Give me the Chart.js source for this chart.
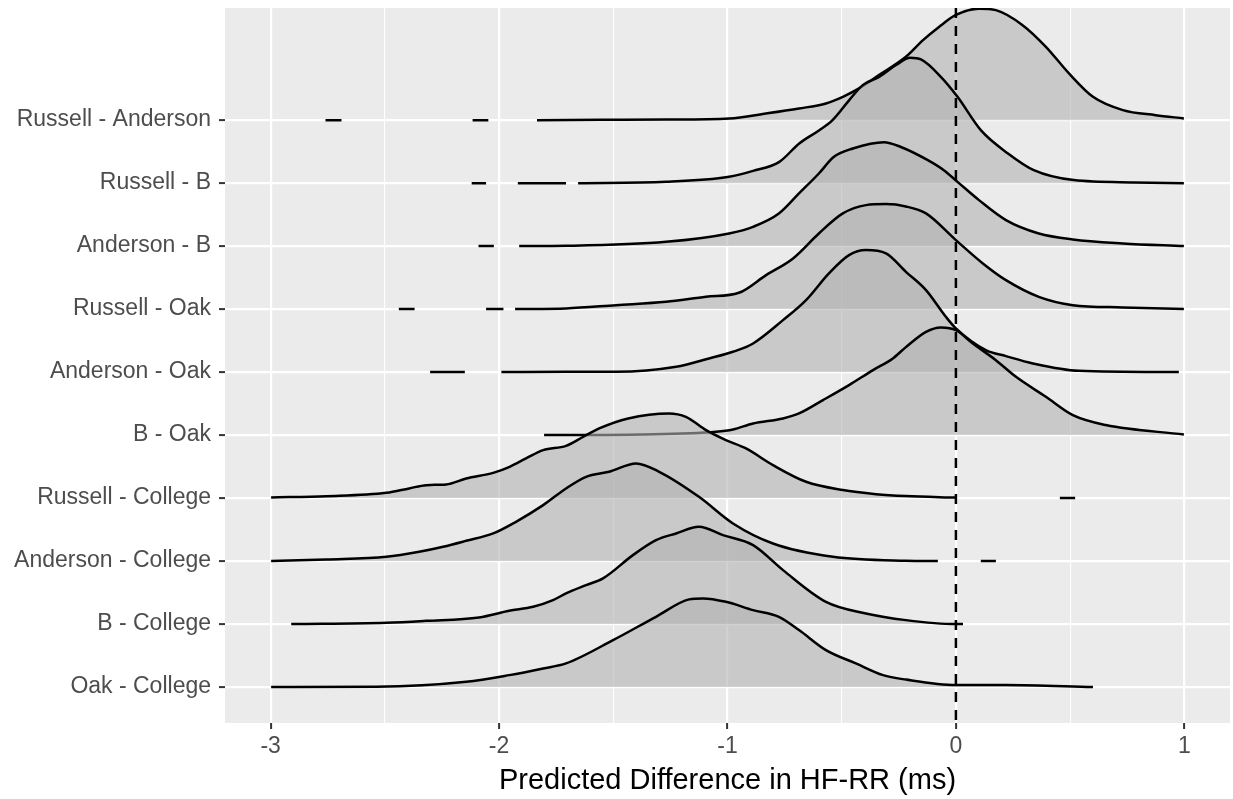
<!DOCTYPE html>
<html>
<head>
<meta charset="utf-8">
<script src="https://cdn.jsdelivr.net/npm/chart.js@4.4.1/dist/chart.umd.min.js"></script>
<style>
  html, body { margin: 0; padding: 0; background: #fff; }
  #wrap { width: 1233px; height: 799px; position: relative; }
</style>
</head>
<body>
<div id="wrap"><canvas id="ridges"></canvas></div>
<script>
// categories, top to bottom
const categories = [
  'Russell - Anderson', 'Russell - B', 'Anderson - B', 'Russell - Oak', 'Anderson - Oak',
  'B - Oak', 'Russell - College', 'Anderson - College', 'B - College', 'Oak - College'
];
const xTicks = [-3, -2, -1, 0, 1];

// density curves: [x, height above the row], null = gap
const russellAnderson = [[-2.76,0],[-2.69,0],null,[-2.116,0],[-2.047,0],null,[-1.834,0],[-1.55,0.005],[-1.27,0.01],[-0.993,0.027],[-0.831,0.106],[-0.687,0.185],[-0.569,0.265],[-0.495,0.37],[-0.424,0.503],[-0.337,0.714],[-0.219,1.005],[-0.144,1.27],[-0.074,1.48],[0,1.67],[0.101,1.77],[0.175,1.746],[0.292,1.508],[0.394,1.164],[0.495,0.741],[0.6,0.37],[0.731,0.159],[0.875,0.079],[0.998,0.027]];
const russellB = [[-2.12,0],[-2.057,0],null,[-1.918,0],[-1.707,0],null,[-1.654,0],[-1.269,0.021],[-0.993,0.1],[-0.888,0.195],[-0.773,0.338],[-0.686,0.63],[-0.598,0.841],[-0.54,1.0],[-0.467,1.317],[-0.408,1.556],[-0.336,1.687],[-0.26,1.88],[-0.2,1.99],[-0.153,1.963],[-0.066,1.688],[0.007,1.37],[0.109,0.841],[0.228,0.471],[0.341,0.206],[0.516,0.048],[0.779,0.011],[0.998,0]];
const andersonB = [[-2.09,0],[-2.023,0],null,[-1.912,0],[-1.707,0.005],[-1.269,0.068],[-0.993,0.201],[-0.888,0.306],[-0.775,0.517],[-0.687,0.836],[-0.6,1.153],[-0.534,1.418],[-0.451,1.55],[-0.315,1.65],[-0.241,1.574],[-0.123,1.365],[-0.053,1.206],[0.007,1.02],[0.101,0.73],[0.219,0.413],[0.363,0.201],[0.512,0.106],[0.731,0.043],[0.998,0]];
const russellOak = [[-2.439,0],[-2.37,0],null,[-2.057,0],[-1.981,0],null,[-1.93,0],[-1.707,0.011],[-1.488,0.063],[-1.269,0.116],[-1.094,0.195],[-0.95,0.259],[-0.831,0.54],[-0.713,0.805],[-0.6,1.201],[-0.495,1.519],[-0.394,1.651],[-0.306,1.667],[-0.219,1.63],[-0.131,1.519],[0,1.095],[0.118,0.725],[0.219,0.46],[0.363,0.195],[0.512,0.063],[0.731,0.027],[0.998,0]];
const andersonOak = [[-2.302,0],[-2.15,0],null,[-1.99,0],[-1.707,0.005],[-1.488,0.005],[-1.225,0.084],[-1.081,0.217],[-0.976,0.323],[-0.888,0.455],[-0.757,0.825],[-0.656,1.143],[-0.556,1.566],[-0.468,1.857],[-0.394,1.937],[-0.306,1.884],[-0.219,1.592],[-0.131,1.302],[-0.044,0.878],[0,0.694],[0.131,0.349],[0.219,0.254],[0.337,0.138],[0.538,0.021],[0.976,0]];
const bOak = [[-1.803,0],[-1.379,0.01],[-1.05,0.053],[-0.976,0.09],[-0.888,0.185],[-0.757,0.265],[-0.687,0.344],[-0.582,0.556],[-0.468,0.794],[-0.363,1.032],[-0.276,1.217],[-0.219,1.397],[-0.131,1.64],[-0.066,1.71],[0,1.667],[0.074,1.455],[0.175,1.19],[0.263,0.925],[0.394,0.608],[0.512,0.317],[0.656,0.159],[0.998,0.01]];
const russellCollege = [[-2.998,0.01],[-2.757,0.03],[-2.494,0.084],[-2.394,0.154],[-2.319,0.206],[-2.232,0.217],[-2.144,0.312],[-2.026,0.401],[-1.954,0.497],[-1.882,0.63],[-1.807,0.762],[-1.707,0.83],[-1.633,0.97],[-1.562,1.106],[-1.435,1.265],[-1.256,1.345],[-1.182,1.291],[-1.094,1.079],[-1.007,0.921],[-0.919,0.788],[-0.801,0.524],[-0.656,0.259],[-0.495,0.127],[-0.35,0.063],[-0.219,0.032],[0,0.008],null,[0.455,0],[0.522,0]];
const andersonCollege = [[-2.998,0],[-2.757,0.027],[-2.494,0.069],[-2.35,0.148],[-2.245,0.228],[-2.144,0.322],[-2.026,0.439],[-1.926,0.624],[-1.807,0.888],[-1.707,1.153],[-1.619,1.338],[-1.519,1.418],[-1.4,1.55],[-1.299,1.418],[-1.125,1.021],[-0.976,0.598],[-0.801,0.28],[-0.538,0.069],[-0.219,0.005],[-0.079,0],null,[0.109,0],[0.175,0]];
const bCollege = [[-2.91,0],[-2.494,0.021],[-2.319,0.052],[-2.088,0.106],[-1.956,0.211],[-1.851,0.275],[-1.764,0.381],[-1.707,0.487],[-1.619,0.619],[-1.545,0.725],[-1.414,1.095],[-1.313,1.333],[-1.225,1.439],[-1.125,1.545],[-1.02,1.413],[-0.888,1.254],[-0.757,0.857],[-0.569,0.354],[-0.394,0.169],[-0.219,0.063],[0,0],[0.031,0]];
const oakCollege = [[-2.998,0],[-2.538,0.005],[-2.144,0.084],[-1.956,0.19],[-1.807,0.296],[-1.707,0.376],[-1.501,0.746],[-1.313,1.116],[-1.168,1.392],[-1.107,1.408],[-1.007,1.354],[-0.888,1.222],[-0.775,1.116],[-0.687,0.905],[-0.569,0.587],[-0.438,0.376],[-0.319,0.19],[-0.219,0.119],[0,0.032],[0.219,0.032],[0.6,0]];

const curves = [russellAnderson, russellB, andersonB, russellOak, andersonOak,
  bOak, russellCollege, andersonCollege, bCollege, oakCollege];

const FONT = "'Liberation Sans', Arial, Helvetica, sans-serif";

// top row sits at y = 10, bottom row at y = 1
const datasets = curves.map((pts, i) => {
  const base = categories.length - i;
  let lastX = 0;
  const data = pts.map(p => {
    if (!p) return { x: lastX + 0.001, y: null };
    lastX = p[0];
    return { x: p[0], y: base + p[1] };
  });
  return {
    label: categories[i],
    data: data,
    borderColor: '#000',
    borderWidth: 2.5,
    backgroundColor: 'rgba(179,179,179,0.6)',
    fill: { value: base },
    pointRadius: 0,
    cubicInterpolationMode: 'monotone',
    spanGaps: false,
    order: base // lower rows drawn on top
  };
});

const panelBg = {
  id: 'panelBg',
  beforeDraw(chart) {
    const { ctx, chartArea: a } = chart;
    ctx.save();
    ctx.fillStyle = '#EBEBEB';
    ctx.fillRect(a.left, a.top, a.right - a.left, a.bottom - a.top);
    ctx.restore();
  }
};

const zeroLine = {
  id: 'zeroLine',
  afterDatasetsDraw(chart) {
    const { ctx, chartArea: a } = chart;
    const x = chart.scales.x.getPixelForValue(0);
    ctx.save();
    ctx.strokeStyle = '#000';
    ctx.lineWidth = 2.5;
    ctx.setLineDash([10, 8]);
    ctx.beginPath();
    ctx.moveTo(x, a.top);
    ctx.lineTo(x, a.bottom);
    ctx.stroke();
    ctx.restore();
  }
};

const isMajor = v => xTicks.includes(v);

new Chart(document.getElementById('ridges'), {
  type: 'line',
  data: { datasets },
  plugins: [panelBg, zeroLine],
  options: {
    responsive: true,
    maintainAspectRatio: false,
    animation: false,
    events: [],
    layout: { padding: { top: 8, right: 3, bottom: 0, left: 0 } },
    plugins: { legend: { display: false }, tooltip: { enabled: false } },
    scales: {
      x: {
        type: 'linear',
        min: -3.2,
        max: 1.2,
        afterBuildTicks: scale => {
          scale.ticks = [-3, -2.5, -2, -1.5, -1, -0.5, 0, 0.5, 1].map(v => ({ value: v }));
        },
        afterFit: scale => {
          scale.height = 76;
          scale.paddingLeft = 0;
          scale.paddingRight = 0;
        },
        border: { display: false },
        grid: {
          color: '#fff',
          lineWidth: ctx => (ctx.tick && isMajor(ctx.tick.value)) ? 2.2 : 1.1,
          drawTicks: true,
          tickLength: 6,
          tickWidth: 2,
          tickColor: ctx => (ctx.tick && isMajor(ctx.tick.value)) ? '#333' : 'rgba(0,0,0,0)'
        },
        ticks: {
          autoSkip: false,
          maxRotation: 0,
          padding: 4,
          color: '#4D4D4D',
          font: { family: FONT, size: 23 },
          callback: v => isMajor(v) ? String(v) : ''
        },
        title: {
          display: true,
          text: 'Predicted Difference in HF-RR (ms)',
          color: '#000',
          font: { family: FONT, size: 29 },
          padding: { top: 0, bottom: 1 }
        }
      },
      y: {
        type: 'linear',
        min: 0.43,
        max: 11.78,
        afterBuildTicks: scale => {
          scale.ticks = categories.map((_, i) => ({ value: categories.length - i }));
        },
        afterFit: scale => {
          scale.width = 225;
          scale.paddingTop = 0;
          scale.paddingBottom = 0;
        },
        border: { display: false },
        grid: {
          color: '#fff',
          lineWidth: 2.2,
          drawTicks: true,
          tickLength: 6,
          tickWidth: 2,
          tickColor: '#333'
        },
        ticks: {
          autoSkip: false,
          padding: 8,
          color: '#4D4D4D',
          font: { family: FONT, size: 23 },
          callback: v => categories[categories.length - v]
        }
      }
    }
  }
});
</script>
</body>
</html>
